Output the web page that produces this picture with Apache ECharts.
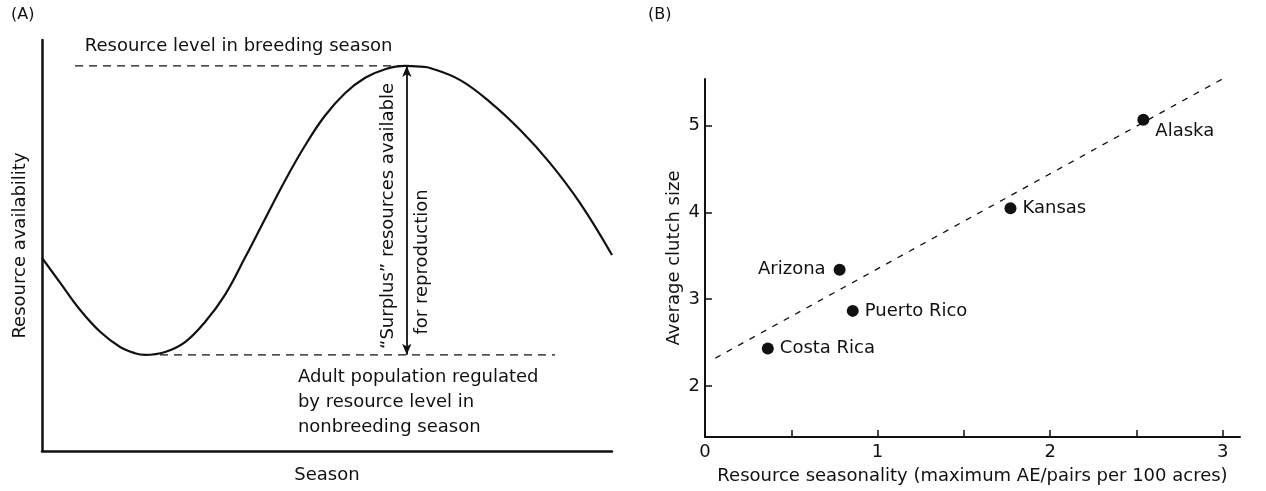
<!DOCTYPE html>
<html>
<head>
<meta charset="utf-8">
<script src="https://cdn.jsdelivr.net/npm/echarts@6/dist/echarts.min.js"></script>
<style>html,body{margin:0;padding:0;background:#fff}#c{width:1266px;height:491px}</style>
</head>
<body>
<div id="c"></div>
<script>
// Panel A: resource curve (season 0-100, availability 0-100)
const seasonX = [0, 3.2, 6.7, 10.2, 13.7, 16.3, 18.1, 21.6, 25.1, 28.6, 32.1, 35.6, 39.1, 42.6, 46.1, 49.6, 53.2, 56.7, 60.2, 63.7, 66.5, 68.1, 73.3, 78.6, 83.9, 89.1, 94.4, 100];
const resourceY = [47.0, 40.9, 34.3, 29.0, 25.3, 23.8, 23.4, 24.1, 26.5, 31.4, 38.0, 47.0, 56.4, 65.7, 74.2, 81.5, 87.1, 90.8, 92.9, 93.7, 93.5, 93.2, 90.3, 84.9, 78.1, 70.1, 60.3, 47.7];
const breedingLevel = 93.7;
const nonbreedingLevel = 23.4;
const breedingLineX = [5.8, 63.7];
const nonbreedingLineX = [20.7, 90.0];
const surplusArrowX = 64.0;

// Panel B: clutch size vs resource seasonality
const sites = ['Alaska', 'Kansas', 'Arizona', 'Puerto Rico', 'Costa Rica'];
const seasonality = [2.54, 1.77, 0.78, 0.856, 0.364];
const clutchSize = [5.07, 4.05, 3.34, 2.865, 2.43];
const trendX = [0.06, 3.07];
const trendY = [2.32, 5.62];
const xTicksB = [0, 0.5, 1, 1.5, 2, 2.5, 3];
const xLabelsB = [0, 1, 2, 3];
const yTicksB = [2, 3, 4, 5];

const FONT = 'DejaVu Sans';
const INK = '#111';
const txt = { fontFamily: FONT, fontSize: 18, color: INK, opacity: 1 };

const chart = echarts.init(document.getElementById('c'), null, { renderer: 'canvas' });

const curveData = seasonX.map((x, i) => [x, resourceY[i]]);
const scatterData = sites.map((s, i) => ({
  name: s,
  value: [seasonality[i], clutchSize[i]],
  label: s === 'Arizona' ? { position: 'left', distance: 8 }
       : s === 'Alaska' ? { position: 'right', distance: 6, offset: [0, 12] }
       : { position: 'right', distance: 6 }
}));

function annot(x, y, text, label) {
  return { value: [x, y], label: Object.assign({ show: true, formatter: text }, txt, label) };
}

chart.setOption({
  animation: false,
  backgroundColor: '#fff',
  title: [
    { text: '(A)', left: 6, top: 2, textStyle: { fontFamily: FONT, fontSize: 16, fontWeight: 'normal', color: INK } },
    { text: '(B)', left: 643, top: 2, textStyle: { fontFamily: FONT, fontSize: 16, fontWeight: 'normal', color: INK } }
  ],
  grid: [
    { left: 42, top: 40, width: 570, height: 411 },
    { left: 705, top: 79, width: 535, height: 358 }
  ],
  xAxis: [
    {
      gridIndex: 0, type: 'value', min: 0, max: 100,
      name: 'Season', nameLocation: 'middle', nameGap: 15,
      nameTextStyle: txt,
      axisLine: { show: true, onZero: false, lineStyle: { color: INK, width: 2.5 } },
      axisTick: { show: false }, axisLabel: { show: false }, splitLine: { show: false }
    },
    {
      gridIndex: 1, type: 'value', min: 0, max: 3.1,
      name: 'Resource seasonality (maximum AE/pairs per 100 acres)', nameLocation: 'middle', nameGap: 30,
      nameTextStyle: txt,
      axisLine: { show: true, onZero: false, lineStyle: { color: INK, width: 2 } },
      axisTick: { show: true, inside: true, length: 7, customValues: xTicksB, lineStyle: { color: INK, width: 1.5 } },
      axisLabel: { show: true, margin: 6, customValues: xLabelsB, fontFamily: FONT, fontSize: 18, color: INK },
      splitLine: { show: false }
    }
  ],
  yAxis: [
    {
      gridIndex: 0, type: 'value', min: 0, max: 100,
      name: 'Resource availability', nameLocation: 'middle', nameGap: 13,
      nameTextStyle: txt,
      axisLine: { show: true, onZero: false, lineStyle: { color: INK, width: 2.5 } },
      axisTick: { show: false }, axisLabel: { show: false }, splitLine: { show: false }
    },
    {
      gridIndex: 1, type: 'value', min: 1.41, max: 5.54,
      name: 'Average clutch size', nameLocation: 'middle', nameGap: 22,
      nameTextStyle: txt,
      axisLine: { show: true, onZero: false, lineStyle: { color: INK, width: 2 } },
      axisTick: { show: true, inside: true, length: 7, customValues: yTicksB, lineStyle: { color: INK, width: 1.5 } },
      axisLabel: { show: true, margin: 5, customValues: yTicksB, fontFamily: FONT, fontSize: 18, color: INK },
      splitLine: { show: false }
    }
  ],
  series: [
    {
      type: 'line', xAxisIndex: 0, yAxisIndex: 0, data: curveData, smooth: 0.4,
      showSymbol: false, lineStyle: { color: INK, width: 2.2 }, silent: true
    },
    {
      type: 'line', xAxisIndex: 0, yAxisIndex: 0,
      data: breedingLineX.map(x => [x, breedingLevel]),
      showSymbol: false, lineStyle: { color: INK, width: 1.4, type: [8, 6] }, silent: true
    },
    {
      type: 'line', xAxisIndex: 0, yAxisIndex: 0,
      data: nonbreedingLineX.map(x => [x, nonbreedingLevel]),
      showSymbol: false, lineStyle: { color: INK, width: 1.4, type: [8, 6] }, silent: true,
      markLine: {
        silent: true, symbol: ['arrow', 'arrow'], symbolSize: [7, 11], label: { show: false },
        lineStyle: { color: INK, width: 1.8, type: 'solid' },
        data: [[{ coord: [surplusArrowX, breedingLevel] }, { coord: [surplusArrowX, nonbreedingLevel] }]]
      }
    },
    {
      type: 'scatter', xAxisIndex: 0, yAxisIndex: 0, symbolSize: 0, silent: true,
      itemStyle: { opacity: 1 },
      data: [
        annot(7.5, 98.5, 'Resource level in breeding season', { position: 'right', distance: 0 }),
        annot(60.7, 57.2, '\u201CSurplus\u201D resources available', { position: 'inside', rotate: 90, align: 'center', verticalAlign: 'middle' }),
        annot(66.7, 46.0, 'for reproduction', { position: 'inside', rotate: 90, align: 'center', verticalAlign: 'middle' }),
        annot(44.9, 11.9, 'Adult population regulated\nby resource level in\nnonbreeding season', { position: 'right', distance: 0, lineHeight: 25 })
      ]
    },
    {
      type: 'line', xAxisIndex: 1, yAxisIndex: 1,
      data: trendX.map((x, i) => [x, trendY[i]]),
      showSymbol: false, lineStyle: { color: INK, width: 1.3, type: [6, 7] }, silent: true
    },
    {
      type: 'scatter', xAxisIndex: 1, yAxisIndex: 1, data: scatterData,
      symbol: 'circle', symbolSize: 12, itemStyle: { color: INK, opacity: 1 },
      label: { show: true, formatter: '{b}', fontFamily: FONT, fontSize: 18, color: INK, opacity: 1 }
    }
  ]
});
</script>
</body>
</html>
